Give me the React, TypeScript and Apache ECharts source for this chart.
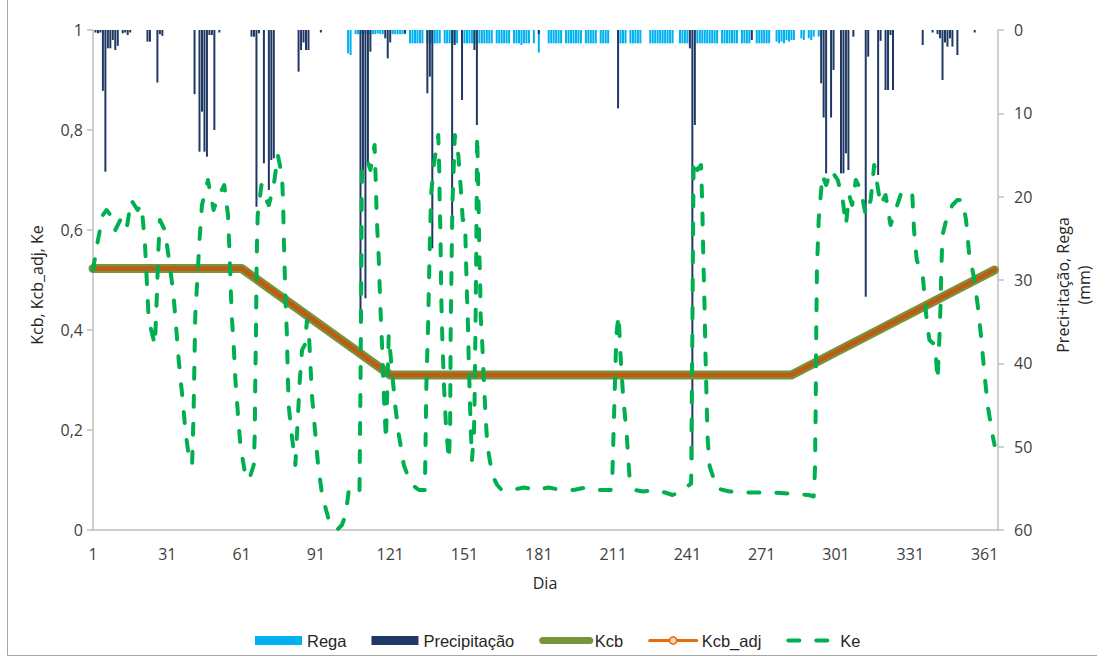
import React, { useEffect, useRef } from 'react';
import * as echarts from 'echarts';

// Kcb and Kcb_adj read at their break points (day, value)
const kcb: [number, number][] = [[1, 0.523], [61, 0.523], [121, 0.31], [283, 0.31], [365, 0.52]];
const kcbAdj: [number, number][] = [[1, 0.523], [61, 0.523], [121, 0.31], [283, 0.31], [365, 0.52]];

// Ke (day, value)
const ke: [number, number][] = [
  [1, 0.52], [2, 0.55], [3, 0.58], [5, 0.63], [6.5, 0.64], [8, 0.63], [10, 0.6], [12, 0.62], [14.5, 0.6], [16.4, 0.66],
  [19, 0.64], [20.6, 0.65], [22, 0.57], [22.7, 0.5], [23.4, 0.43], [24.5, 0.4], [26, 0.37], [26.8, 0.47], [27.4, 0.56], [28, 0.62],
  [30, 0.6], [32, 0.53], [33.5, 0.47], [34.5, 0.41], [35.6, 0.34], [37, 0.27], [38.3, 0.2], [39.6, 0.15], [41, 0.13], [41.6, 0.23],
  [42, 0.35], [42.3, 0.43], [43, 0.49], [44, 0.58], [45, 0.65], [47.4, 0.7], [49.7, 0.64], [51, 0.66], [54, 0.69], [55.5, 0.63],
  [56, 0.57], [56.5, 0.5], [57, 0.43], [57.8, 0.37], [58.5, 0.3], [59.4, 0.24], [60.5, 0.17], [62.5, 0.11], [64, 0.1], [65.9, 0.13],
  [66.3, 0.19], [66.5, 0.29], [66.8, 0.39], [67, 0.5], [67.2, 0.57], [67.5, 0.63], [69, 0.69], [71, 0.66], [72, 0.65], [74, 0.69],
  [75.6, 0.75], [77.3, 0.71], [77.8, 0.65], [78, 0.59], [78.4, 0.52], [78.8, 0.45], [79.3, 0.39], [79.6, 0.32], [80, 0.25], [81, 0.2],
  [82.7, 0.13], [84.5, 0.3], [85.4, 0.36], [86.5, 0.37], [87.4, 0.42], [88.3, 0.38], [88.8, 0.33], [89.4, 0.27], [90.8, 0.19], [91.9, 0.13],
  [93.5, 0.07], [96.2, 0.02], [99.5, 0], [101.5, 0.01], [103, 0.03], [104.3, 0.08], [107, 0.07], [108.6, 0.08], [109, 0.29], [109.2, 0.42],
  [109.4, 0.55], [109.5, 0.67], [109.7, 0.73], [111.7, 0.74], [113, 0.72], [114.7, 0.77], [115.2, 0.69], [115.6, 0.62], [116.4, 0.54], [117, 0.45],
  [117.7, 0.37], [118.2, 0.3], [118.8, 0.23], [119.3, 0.18], [120.4, 0.39], [121.5, 0.33], [123, 0.25], [124.5, 0.19], [126.5, 0.13], [128, 0.11],
  [130, 0.09], [132.6, 0.08], [135, 0.08], [135.6, 0.29], [136.3, 0.41], [136.8, 0.53], [137.5, 0.67], [138.6, 0.73], [140.4, 0.79], [140.8, 0.72],
  [141, 0.65], [141.3, 0.59], [141.6, 0.47], [142, 0.39], [142.7, 0.29], [143.5, 0.21], [144.7, 0.14], [145.2, 0.21], [145.4, 0.39], [145.8, 0.54],
  [146.1, 0.65], [147.1, 0.79], [148.5, 0.75], [149.4, 0.69], [150.3, 0.62], [151.2, 0.62], [151.6, 0.54], [152, 0.47], [152.4, 0.41], [152.7, 0.34],
  [153, 0.29], [153.4, 0.22], [154, 0.14], [154.8, 0.19], [155.1, 0.27], [155.4, 0.39], [155.7, 0.53], [155.9, 0.65], [156.1, 0.79], [156.5, 0.7],
  [156.8, 0.62], [157, 0.55], [157.3, 0.5], [157.5, 0.43], [158.2, 0.37], [158.8, 0.3], [159.5, 0.23], [160.2, 0.17], [162.2, 0.11], [164.2, 0.09],
  [166, 0.08], [170, 0.08], [175, 0.085], [180, 0.08], [185, 0.085], [190, 0.08], [195, 0.08], [200, 0.085], [205, 0.08], [210, 0.08],
  [210.7, 0.11], [211.5, 0.25], [212.3, 0.39], [213.2, 0.43], [214, 0.35], [215, 0.27], [216.5, 0.19], [217.7, 0.1], [220, 0.08], [223, 0.077],
  [228, 0.08], [232, 0.075], [235, 0.07], [238.3, 0.077], [242.5, 0.093], [243, 0.4], [243.5, 0.74], [245, 0.72], [246.5, 0.73], [247, 0.65],
  [247.4, 0.55], [247.9, 0.45], [248.3, 0.35], [248.8, 0.25], [249.2, 0.18], [250, 0.127], [253, 0.083], [258, 0.077], [265, 0.075], [275, 0.075],
  [285, 0.072], [290, 0.07], [292, 0.067], [292.5, 0.12], [292.8, 0.25], [293, 0.39], [293.3, 0.52], [294, 0.62], [295.5, 0.71], [297, 0.69],
  [299, 0.72], [301.7, 0.7], [303.7, 0.66], [305, 0.61], [306.3, 0.67], [307.5, 0.65], [309, 0.7], [311, 0.68], [313, 0.63], [315, 0.66],
  [316.4, 0.73], [317.7, 0.69], [319, 0.65], [321, 0.67], [323, 0.61], [326.4, 0.66], [327.7, 0.68], [331.8, 0.67], [332.5, 0.6], [333.6, 0.54],
  [336, 0.51], [337.4, 0.43], [338.7, 0.38], [341, 0.37], [342, 0.3], [342.8, 0.39], [343.2, 0.45], [343.5, 0.52], [344, 0.59], [345.5, 0.62],
  [348, 0.65], [350, 0.66], [352, 0.66], [353.5, 0.62], [354.8, 0.55], [356.5, 0.51], [358.2, 0.45], [359.5, 0.39], [360.8, 0.32], [362.2, 0.25],
  [364.2, 0.19], [365, 0.17],
];

// Precipitação (day, mm)
const precipitacao: [number, number][] = [
  [2, 0.3], [3, 0.4], [4, 0.3], [5, 7.3], [6, 17], [7, 2.2], [8, 2.2], [9, 1.2], [10, 2.4], [11, 1.9], [13, 0.4], [14, 0.3], [15, 0.6], [16, 0.3],
  [23, 1.4], [24, 1.4], [27, 6.3], [28, 0.5], [29, 0.7], [42, 7.7], [44, 14.6], [45, 9.8], [46, 14.6], [47, 15.2], [48, 0.6], [49, 0.6], [50, 12],
  [52, 0.3], [65, 0.8], [66, 0.8], [67, 21.2], [68, 0.4], [70, 16], [72, 19.2], [73, 15.6], [74, 15.4], [84, 5], [85, 2.4], [86, 1.5], [87, 2.4],
  [88, 2.4], [93, 0.3], [109, 34.2], [110, 17], [111, 32.2], [112, 16.2], [113, 2.6], [119, 1], [120, 3.4], [121, 1.5], [127, 0.4], [136, 7.6],
  [137, 5.6], [138, 26.2], [146, 23.2], [147, 1.8], [150, 8.4], [155, 2.4], [156, 11.4], [181, 0.5], [213, 9.4], [242, 2.2], [243, 51.6],
  [244, 11.4], [267, 1.2], [295, 6.4], [296, 10.5], [297, 17.2], [299, 10.5], [300, 4.8], [303, 17.2], [304, 17.2], [305, 14.8], [306, 16.8],
  [308, 0.8], [313, 32], [314, 3.2], [318, 17.4], [319, 1.3], [321, 7.2], [322, 7.2], [323, 0.6], [324, 7.2], [336, 1.8], [340, 0.3], [342, 0.5],
  [343, 1], [344, 6], [345, 1.5], [346, 2], [347, 1], [348, 2], [350, 3], [357, 0.3],
];

// Rega (day, mm)
const rega: [number, number][] = [
  [104, 2.8], [105, 3],
  [107, 0.5], [108, 0.5], [109, 0.5], [110, 0.5], [111, 0.5], [112, 0.5], [113, 0.5], [114, 0.5], [115, 0.5], [116, 0.4], [117, 0.5], [118, 0.5],
  [122, 0.5], [123, 0.5], [124, 0.5], [125, 0.5], [126, 0.5], [127, 0.5],
  [129, 1.6], [130, 1.6], [131, 1.6], [132, 1.6], [133, 1.6], [134, 1.6],
  [136, 1.6], [137, 1.6], [138, 1.6], [139, 1.6], [140, 1.6], [141, 1.6],
  [143, 1.6], [144, 1.6], [145, 1.6], [146, 1.6], [147, 1.6], [148, 1.6],
  [150, 1.6], [151, 1.6], [152, 1.6], [153, 1.6], [154, 1.6], [155, 1.6], [157, 1.6], [158, 1.6], [159, 1.6], [160, 1.6], [161, 1.6], [162, 1.6],
  [164, 1.6], [165, 1.6], [166, 1.6], [167, 1.6], [168, 1.6], [169, 1.6],
  [171, 1.6], [172, 1.6], [173, 1.6], [174, 1.8], [175, 1.6], [176, 1.6], [177, 1.6],
  [179, 1.6], [181, 2.7],
  [185, 1.6], [186, 1.6], [187, 1.6], [188, 1.6], [189, 1.6], [190, 1.6],
  [192, 1.6], [193, 1.6], [194, 1.6], [195, 1.6], [196, 1.6], [197, 1.6], [198, 1.6],
  [200, 1.6], [201, 1.6], [202, 1.6], [203, 1.6], [204, 1.6],
  [206, 1.6], [207, 1.6], [208, 1.6], [209, 1.6],
  [213, 1.6], [214, 1.6], [215, 1.6], [216, 1.6],
  [218, 1.6], [219, 1.6], [220, 1.6], [221, 1.6], [222, 1.6],
  [226, 1.6], [227, 1.6], [228, 1.6], [229, 1.6], [230, 1.6], [231, 1.6], [232, 1.6], [233, 1.6], [234, 1.6], [235, 1.6],
  [238, 1.6], [239, 1.6], [240, 1.6], [241, 1.6],
  [245, 1.6], [246, 1.6], [247, 1.6], [248, 1.6], [249, 1.6], [250, 1.6], [251, 1.6], [252, 1.6], [253, 1.6],
  [255, 1.6], [256, 1.6], [257, 1.6], [258, 1.6], [259, 1.6], [260, 1.6], [261, 1.6],
  [263, 1.6], [264, 1.6], [265, 1.6], [266, 1.6],
  [269, 1.6], [270, 1.6], [271, 1.6], [272, 1.6], [273, 1.6], [274, 1.6],
  [277, 1.4], [278, 1.6], [279, 1.4], [280, 1.6], [281, 1.2], [282, 1.4],
  [283, 1.2], [284, 1.2], [287, 1.0], [288, 1.2], [290, 1.0], [291, 1.2], [292, 0.8], [294, 0.8], [295, 0.8],
];

const legendNames = ['Rega', 'Precipitação', 'Kcb', 'Kcb_adj', 'Ke'];
const leftTitle = 'Kcb, Kcb_adj, Ke';
const rightTitle1 = 'Preci+itação, Rega';
const rightTitle2 = '(mm)';
const xTitle = 'Dia';

const TICK_FONT = '"Open Sans", "DejaVu Sans", sans-serif';
const LEGEND_FONT = '"Liberation Sans", Arial, sans-serif';

export default function App() {
  const ref = useRef<HTMLDivElement>(null);
  useEffect(() => {
    const chart = echarts.init(ref.current!, null, { renderer: 'svg' });
    // x is plotted as (day - 1) so that the ticks fall on days 1, 31, 61, ...
    const sx = (d: [number, number][]) => d.map(([day, v]) => [day - 1, v]);
    const axisGray = '#bfbfbf';
    const labelColor = '#404040';
    const hiddenSymbol = { opacity: 0, color: 'rgba(0,0,0,0)', borderWidth: 0 };
    chart.setOption({
      animation: false,
      backgroundColor: '#ffffff',
      textStyle: { fontFamily: TICK_FONT },
      grid: { left: 93, right: 99, top: 30, bottom: 131 },
      xAxis: {
        type: 'value',
        min: 0,
        max: 365.4,
        interval: 30,
        axisLine: { show: true, onZero: false, lineStyle: { color: axisGray, width: 1.5 } },
        axisTick: { show: false },
        splitLine: { show: false },
        axisLabel: {
          showMaxLabel: false,
          margin: 16,
          fontSize: 16,
          color: labelColor,
          fontFamily: TICK_FONT,
          formatter: (v: number) => (Math.abs(v % 30) < 1e-6 ? String(Math.round(v) + 1) : ''),
        },
      },
      yAxis: [
        {
          type: 'value',
          min: 0,
          max: 1,
          interval: 0.2,
          position: 'left',
          axisLine: { show: true, lineStyle: { color: axisGray, width: 1.5 } },
          axisTick: { show: true, length: 6, lineStyle: { color: axisGray, width: 1.5 } },
          splitLine: { show: false },
          axisLabel: {
            margin: 10,
            fontSize: 16,
            color: labelColor,
            fontFamily: TICK_FONT,
            formatter: (v: number) => String(Math.round(v * 10) / 10).replace('.', ','),
          },
        },
        {
          type: 'value',
          min: 0,
          max: 60,
          interval: 10,
          inverse: true,
          position: 'right',
          axisLine: { show: true, lineStyle: { color: axisGray, width: 1.5 } },
          axisTick: { show: true, length: 6, lineStyle: { color: axisGray, width: 1.5 } },
          splitLine: { show: false },
          axisLabel: { margin: 16, fontSize: 16, color: labelColor, fontFamily: TICK_FONT },
        },
      ],
      legend: {
        left: 250,
        top: 627,
        itemWidth: 47,
        itemHeight: 9,
        itemGap: 25,
        textStyle: { fontFamily: LEGEND_FONT, fontSize: 16.5, color: '#262626' },
        data: [
          { name: legendNames[0], icon: 'rect' },
          { name: legendNames[1], icon: 'rect' },
          { name: legendNames[2], lineStyle: { width: 7, color: '#77933c' }, itemStyle: hiddenSymbol },
          {
            name: legendNames[3],
            lineStyle: { width: 3, color: '#e46c0a' },
            itemStyle: { color: '#fbd4b4', borderColor: '#e46c0a', borderWidth: 1.5 },
          },
          {
            name: legendNames[4],
            lineStyle: { width: 4, color: '#00b050', type: [11, 17], cap: 'round' },
            itemStyle: hiddenSymbol,
          },
        ],
      },
      graphic: [
        {
          type: 'rect',
          silent: true,
          z: -10,
          shape: { x: 7.5, y: -5, width: 1200, height: 660.5 },
          style: { fill: 'none', stroke: '#a6a6a6', lineWidth: 1 },
        },
        {
          type: 'text',
          x: 37,
          y: 285,
          rotation: Math.PI / 2,
          style: {
            text: leftTitle, fill: '#262626', fontSize: 16, fontFamily: TICK_FONT,
            align: 'center', verticalAlign: 'middle', textAlign: 'center', textVerticalAlign: 'middle',
          },
        },
        {
          type: 'text',
          x: 1063,
          y: 285,
          rotation: Math.PI / 2,
          style: {
            text: rightTitle1, fill: '#262626', fontSize: 16, fontFamily: TICK_FONT,
            align: 'center', verticalAlign: 'middle', textAlign: 'center', textVerticalAlign: 'middle',
          },
        },
        {
          type: 'text',
          x: 1084,
          y: 285,
          rotation: Math.PI / 2,
          style: {
            text: rightTitle2, fill: '#262626', fontSize: 16, fontFamily: TICK_FONT,
            align: 'center', verticalAlign: 'middle', textAlign: 'center', textVerticalAlign: 'middle',
          },
        },
        {
          type: 'text',
          x: 545,
          y: 583,
          style: {
            text: xTitle, fill: '#262626', fontSize: 16, fontFamily: TICK_FONT,
            align: 'center', verticalAlign: 'middle', textAlign: 'center', textVerticalAlign: 'middle',
          },
        },
      ],
      series: [
        {
          name: legendNames[0],
          type: 'bar',
          yAxisIndex: 1,
          data: sx(rega),
          barWidth: 2,
          barGap: '-100%',
          itemStyle: { color: '#00b0f0' },
        },
        {
          name: legendNames[1],
          type: 'bar',
          yAxisIndex: 1,
          data: sx(precipitacao),
          barWidth: 2,
          barGap: '-100%',
          itemStyle: { color: '#1f3864' },
        },
        {
          name: legendNames[2],
          type: 'line',
          data: sx(kcb),
          symbol: 'none',
          lineStyle: { color: '#77933c', width: 9, join: 'round', cap: 'round' },
          itemStyle: { color: '#77933c' },
        },
        {
          name: legendNames[3],
          type: 'line',
          data: sx(kcbAdj),
          symbol: 'circle',
          symbolSize: 5,
          showSymbol: false,
          lineStyle: { color: '#bf5b12', width: 4.5, join: 'round', cap: 'round' },
          itemStyle: { color: '#e46c0a' },
        },
        {
          name: legendNames[4],
          type: 'line',
          data: sx(ke),
          symbol: 'none',
          lineStyle: { color: '#00b050', width: 4, type: [11, 17], cap: 'round', join: 'round' },
          itemStyle: { color: '#00b050' },
        },
      ],
    });
    return () => chart.dispose();
  }, []);
  return (
    <div
      ref={ref}
      style={{ position: 'fixed', left: 0, top: 0, width: 1097, height: 661, background: '#fff' }}
    />
  );
}
